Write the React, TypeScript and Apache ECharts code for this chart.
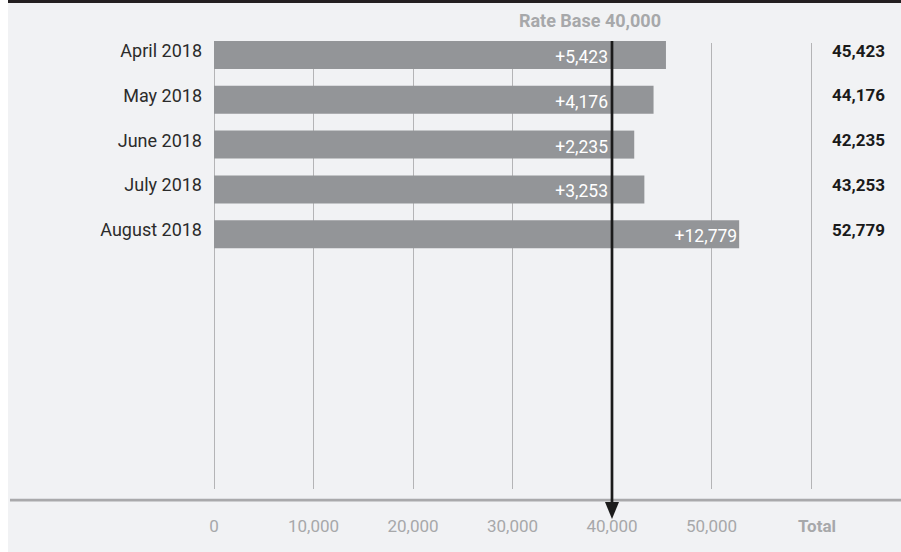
import React, { useEffect, useRef } from "react";
import * as echarts from "echarts";

const months = ["April 2018", "May 2018", "June 2018", "July 2018", "August 2018"];
const rateBase = 40000;
const increases = [5423, 4176, 2235, 3253, 12779];
const tickValues = [0, 10000, 20000, 30000, 40000, 50000, 60000];
const totalLabel = "Total";

const FONT = "'Roboto', sans-serif";
const BAR = "#939598";
const BG = "#f1f2f4";

const fmt = (v: number) => v.toLocaleString("en-US");

export default function App() {
  const ref = useRef<HTMLDivElement>(null);
  useEffect(() => {
    if (!ref.current) return;
    document.body.style.background = "#ffffff";
    const chart = echarts.init(ref.current, undefined, { renderer: "svg" });
    const totals = increases.map((d) => rateBase + d);
    const gridLeft = 206;
    const gridWidth = 597;
    const barsTop = 32.6;
    const barsHeight = 448;
    const linesTop = 43;
    const linesBottom = 489;
    const barW = 28;
    const option: any = {
      animation: false,
      backgroundColor: BG,
      textStyle: { fontFamily: FONT },
      grid: [
        { left: gridLeft, width: gridWidth, top: barsTop, height: barsHeight },
        { left: gridLeft, width: gridWidth, top: linesTop, height: linesBottom - linesTop },
      ],
      xAxis: [
        { gridIndex: 0, type: "value", min: 0, max: tickValues[tickValues.length - 1], show: false },
        {
          gridIndex: 1,
          type: "value",
          min: 0,
          max: tickValues[tickValues.length - 1],
          interval: 10000,
          axisLine: { show: false },
          axisTick: { show: false },
          splitLine: { show: true, lineStyle: { color: "#b4b4b6", width: 1 } },
          axisLabel: {
            margin: 28,
            color: "#a7a8aa",
            fontSize: 17,
            fontFamily: FONT,
            formatter: (v: number) =>
              v === tickValues[tickValues.length - 1] ? "{t|" + totalLabel + "}" : fmt(v),
            rich: {
              t: { fontWeight: "bold", color: "#a7a8aa", fontSize: 17, fontFamily: FONT, padding: [0, 0, 0, 12] },
            },
          },
        },
      ],
      yAxis: [
        {
          gridIndex: 0,
          type: "category",
          data: months,
          inverse: true,
          max: 9,
          axisLine: { show: false },
          axisTick: { show: false },
          axisLabel: {
            margin: 12,
            formatter: (v: string) => "{m|" + v + "}",
            rich: {
              m: { color: "#2b2b2b", fontSize: 18, fontFamily: FONT, padding: [0, 0, 9, 0] },
            },
          },
        },
        {
          gridIndex: 0,
          type: "category",
          position: "right",
          data: totals.map(fmt),
          inverse: true,
          max: 9,
          axisLine: { show: false },
          axisTick: { show: false },
          axisLabel: {
            margin: 21,
            formatter: (v: string) => "{b|" + v + "}",
            rich: {
              b: { color: "#1a1a1a", fontSize: 17, fontWeight: "bold", fontFamily: FONT, padding: [0, 0, 9, 0] },
            },
          },
        },
        { gridIndex: 1, type: "value", show: false, min: 0, max: 1 },
      ],
      series: [
        {
          type: "bar",
          stack: "total",
          xAxisIndex: 0,
          yAxisIndex: 0,
          barWidth: barW,
          itemStyle: { color: BAR },
          data: increases.map((d) => ({
            value: rateBase,
            label: {
              show: d < 10000,
              position: "insideRight",
              distance: 4,
              offset: [0, 2],
              color: "#ffffff",
              fontSize: 17.5,
              fontFamily: FONT,
              formatter: "+" + fmt(d),
            },
          })),
        },
        {
          type: "bar",
          stack: "total",
          xAxisIndex: 0,
          yAxisIndex: 0,
          barWidth: barW,
          itemStyle: { color: BAR },
          data: increases.map((d) => ({
            value: d,
            label: {
              show: d >= 10000,
              position: "insideRight",
              distance: 2,
              offset: [0, 2],
              color: "#ffffff",
              fontSize: 17.5,
              fontFamily: FONT,
              formatter: "+" + fmt(d),
            },
          })),
        },
      ],
    };
    chart.setOption(option);

    const px = chart.convertToPixel({ xAxisIndex: 0 }, rateBase) as number;
    const firstCenter = chart.convertToPixel({ yAxisIndex: 0 }, months[0]) as number;
    const yTop = firstCenter - barW / 2;
    const axisY = linesBottom + 11;
    const tipY = axisY + 19;
    const headTop = axisY + 2;
    chart.setOption({
      graphic: [
        { type: "rect", shape: { x: 0, y: 0, width: 893, height: 3 }, style: { fill: "#231f20" }, z: 10 },
        { type: "rect", shape: { x: 2, y: axisY - 1.3, width: 891, height: 2.7 }, style: { fill: "#a9a9ab" }, z: 10 },
        {
          type: "line",
          shape: { x1: px, y1: yTop, x2: px, y2: headTop + 2 },
          style: { stroke: "#1b1b1b", lineWidth: 2.7 },
          z: 20,
        },
        {
          type: "polygon",
          shape: { points: [[px - 7, headTop], [px + 7, headTop], [px, tipY]] },
          style: { fill: "#1b1b1b" },
          z: 20,
        },
        {
          type: "text",
          x: px + 49,
          y: 20,
          style: {
            text: "Rate Base " + fmt(rateBase),
            fill: "#a7a8aa",
            font: "bold 18px " + FONT,
            align: "right",
            verticalAlign: "middle",
          },
          z: 20,
        },
      ],
    });
    return () => chart.dispose();
  }, []);
  return (
    <div
      ref={ref}
      style={{ position: "absolute", left: 8, top: 0, width: 893, height: 552 }}
    />
  );
}
